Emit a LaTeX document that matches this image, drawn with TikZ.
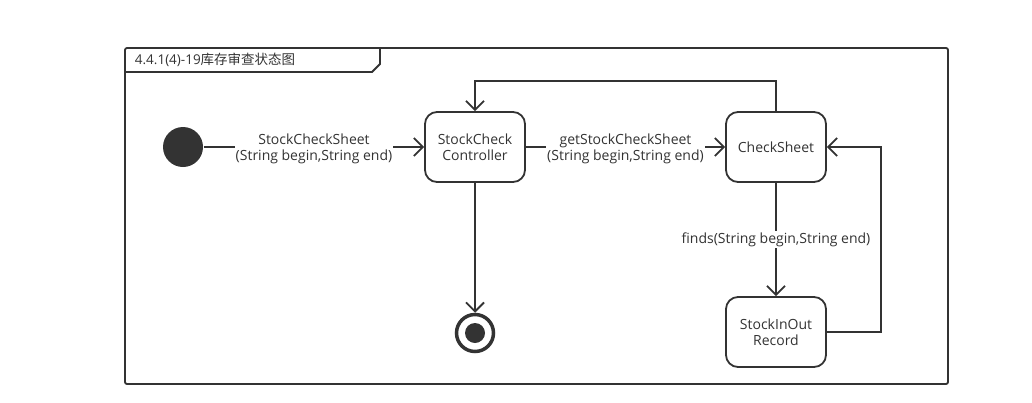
\documentclass[tikz,border=0pt]{standalone}
\usepackage{fontspec}
\setmainfont{Open Sans}
\newfontfamily\cjk{Noto Sans CJK SC}
\usetikzlibrary{arrows.meta}
\definecolor{ink}{HTML}{333333}
\begin{document}
\begin{tikzpicture}[x=1pt, y=-1pt, line width=1.8pt, draw=ink,
    state/.style={draw=ink, rounded corners=12pt, minimum width=100pt, minimum height=70pt,
      align=center, font=\fontsize{14}{16}\selectfont, text=ink},
    lbl/.style={fill=white, align=center, font=\fontsize{14}{16}\selectfont, text=ink, inner sep=1pt},
    trans/.style={draw=ink, -{Straight Barb[length=9pt, width=18pt, line width=1.8pt]}}]
  \useasboundingbox (0,0) rectangle (1032,402);
  % frame with name tab
  \draw[ink, rounded corners=2pt] (125,48) rectangle (948,384);
  \draw[ink] (125,72) -- (372,72) -- (380,64) -- (380,48);
  \node[anchor=west, text=ink, font=\fontsize{13.5}{15}\selectfont, inner sep=0pt] (title) at (134,60)
    {4.4.1(4)-19{\cjk 库存审查状态图}};
  % states
  \node[circle, fill=ink, minimum size=40pt, inner sep=0pt] (start) at (183,147) {};
  \node[state] (ctrl) at (475,147) {StockCheck\\Controller};
  \node[state] (sheet) at (776,147) {CheckSheet};
  \node[state] (record) at (776,332) {StockInOut\\Record};
  \node[circle, draw=ink, line width=3.5pt, minimum size=37pt, inner sep=0pt] (stop) at (475,333) {};
  \fill[ink] (stop.center) circle (10pt);
  % transitions
  \draw[trans] (start) -- node[lbl, yshift=-1.5pt] {StockCheckSheet\\(String begin,String end)} (ctrl);
  \draw[trans] (ctrl) -- node[lbl, yshift=-1.5pt] {getStockCheckSheet\\(String begin,String end)} (sheet);
  \draw[trans] (sheet) -- node[lbl] {finds(String begin,String end)} (record);
  \draw[trans] (record.east) -- ++(54,0) |- (sheet.east);
  \draw[trans] (sheet.north) -- ++(0,-30) -| (ctrl.north);
  \draw[trans] (ctrl) -- (stop);
\end{tikzpicture}
\end{document}
